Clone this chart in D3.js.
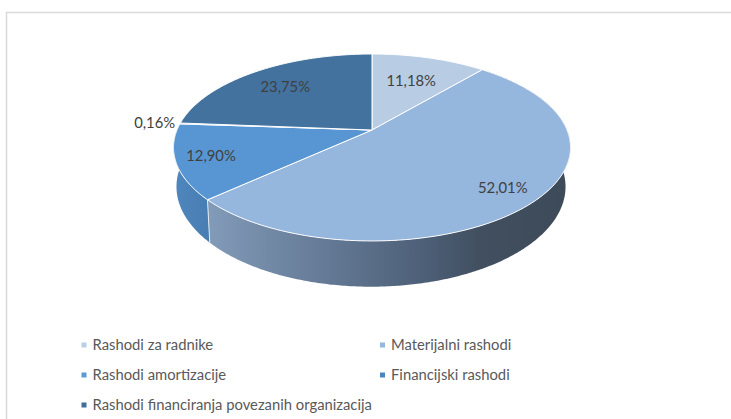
<!DOCTYPE html>
<html>
<head>
<meta charset="utf-8">
<script src="https://cdn.jsdelivr.net/npm/d3@7"></script>
<style>
    html, body { margin: 0; padding: 0; background: #fff; }
    svg { display: block; }
</style>
</head>
<body>
<div id="chart"></div>
<script>
// chart data
const categories = ["Rashodi za radnike", "Materijalni rashodi", "Rashodi amortizacije", "Financijski rashodi", "Rashodi financiranja povezanih organizacija"];
const shares = [11.18, 52.01, 12.90, 0.16, 23.75];
const shareLabels = ["11,18%", "52,01%", "12,90%", "0,16%", "23,75%"];

// styles per slice
const topColors = ["#b8cce4", "#95b6dd", "#5896d3", "#4a86bd", "#43729f"];
const legendColors = ["#b8cfe8", "#95b6dd", "#5b9bd5", "#4a86bd", "#3f6f9c"];
const labelRadius = [0.65, 0.83, 0.83, 1.135, 0.72];

const width = 731, height = 419;

// perspective of the pie plane
const cx = 372, cy = 130;
const radiusX = 195, radiusY = 90.2, tilt = 0.187;

// bottom ring of the wall relative to the top ring
const wallScaleX = 0.98, wallShiftX = -1, wallScaleY = 1.07, wallDrop = 38;

function project(angle, r = 1) {
    let u = Math.sin(angle) * r;
    let v = -Math.cos(angle) * r;
    let w = 1 - tilt * v;
    return [cx + radiusX * u / w, cy + radiusY * v / w];
}

function projectBottom(angle) {
    let p = project(angle);
    return [cx + wallShiftX + (p[0] - cx) * wallScaleX, cy + (p[1] - cy) * wallScaleY + wallDrop];
}

function arcPoints(a0, a1, fn) {
    let n = Math.max(2, Math.ceil(Math.abs(a1 - a0) / 0.01));
    return d3.range(n + 1).map(i => fn(a0 + (a1 - a0) * i / n));
}

let svg = d3.select("#chart").append("svg")
    .attr("width", width)
    .attr("height", height);

// chart area border, the crop leaves only top and left in frame
svg.append("path")
    .attr("d", "M6.5,419V12.5H731")
    .attr("fill", "none")
    .attr("stroke", "#d9d9d9")
    .attr("stroke-width", 1.5);

let defs = svg.append("defs");

let wallGradient = defs.append("linearGradient")
    .attr("id", "wall-main")
    .attr("gradientUnits", "userSpaceOnUse")
    .attr("x1", 208).attr("x2", 570).attr("y1", 0).attr("y2", 0);
wallGradient.selectAll("stop")
    .data([[0, "#829bb8"], [0.3, "#667c98"], [0.6, "#4d5f77"], [0.75, "#414f60"], [1, "#3d4a58"]])
    .enter().append("stop")
    .attr("offset", d => d[0])
    .attr("stop-color", d => d[1]);

let wallGradientLeft = defs.append("linearGradient")
    .attr("id", "wall-left")
    .attr("gradientUnits", "userSpaceOnUse")
    .attr("x1", 174).attr("x2", 212).attr("y1", 0).attr("y2", 0);
wallGradientLeft.selectAll("stop")
    .data([[0, "#4f86bd"], [1, "#477db2"]])
    .enter().append("stop")
    .attr("offset", d => d[0])
    .attr("stop-color", d => d[1]);

let pie = d3.pie().value(d => d).sort(null);
let slices = pie(shares);

let line = d3.line();

// side walls, drawn first so the top face hides whatever falls behind it
let wallFills = ["none", "url(#wall-main)", "url(#wall-left)", "none", "none"];
svg.append("g").attr("class", "walls")
    .selectAll("path")
    .data(slices)
    .enter().append("path")
    .attr("d", d => {
        let top = arcPoints(d.startAngle, d.endAngle, project);
        let bottom = arcPoints(d.endAngle, d.startAngle, projectBottom);
        return line(top.concat(bottom)) + "Z";
    })
    .attr("fill", (d, i) => wallFills[i]);

// white seam where the two visible walls meet
let seam = slices[1].endAngle;
svg.append("path")
    .attr("d", line([project(seam), projectBottom(seam)]))
    .attr("stroke", "#e4ebf3")
    .attr("stroke-width", 1)
    .attr("fill", "none");

// top face
svg.append("g").attr("class", "slices")
    .selectAll("path")
    .data(slices)
    .enter().append("path")
    .attr("d", d => line([[cx, cy]].concat(arcPoints(d.startAngle, d.endAngle, project))) + "Z")
    .attr("fill", (d, i) => topColors[i])
    .attr("stroke", "#fff")
    .attr("stroke-width", 1)
    .attr("stroke-linejoin", "round");

// value labels
svg.append("g").attr("class", "labels")
    .selectAll("text")
    .data(slices)
    .enter().append("text")
    .attr("transform", (d, i) => {
        let p = project((d.startAngle + d.endAngle) / 2, labelRadius[i]);
        return `translate(${p[0]},${p[1]})`;
    })
    .attr("text-anchor", "middle")
    .attr("dy", "0.35em")
    .attr("font-family", "Lato, sans-serif")
    .attr("font-size", 14.8)
    .attr("fill", "#404040")
    .text((d, i) => shareLabels[i]);

// legend, two columns
let legendX = d3.scalePoint().domain([0, 1]).range([81.5, 380]);
let legendY = d3.scalePoint().domain([0, 1, 2]).range([345, 405]);

let legendItems = svg.append("g").attr("class", "legend")
    .selectAll("g")
    .data(categories)
    .enter().append("g")
    .attr("transform", (d, i) => `translate(${legendX(i % 2)},${legendY(Math.floor(i / 2))})`);

legendItems.append("rect")
    .attr("x", 0).attr("y", -2.5)
    .attr("width", 5).attr("height", 5)
    .attr("fill", (d, i) => legendColors[i]);

legendItems.append("text")
    .attr("x", 11)
    .attr("dy", "0.35em")
    .attr("font-family", "Lato, sans-serif")
    .attr("font-size", 14.8)
    .attr("fill", "#595959")
    .text(d => d);
</script>
</body>
</html>
